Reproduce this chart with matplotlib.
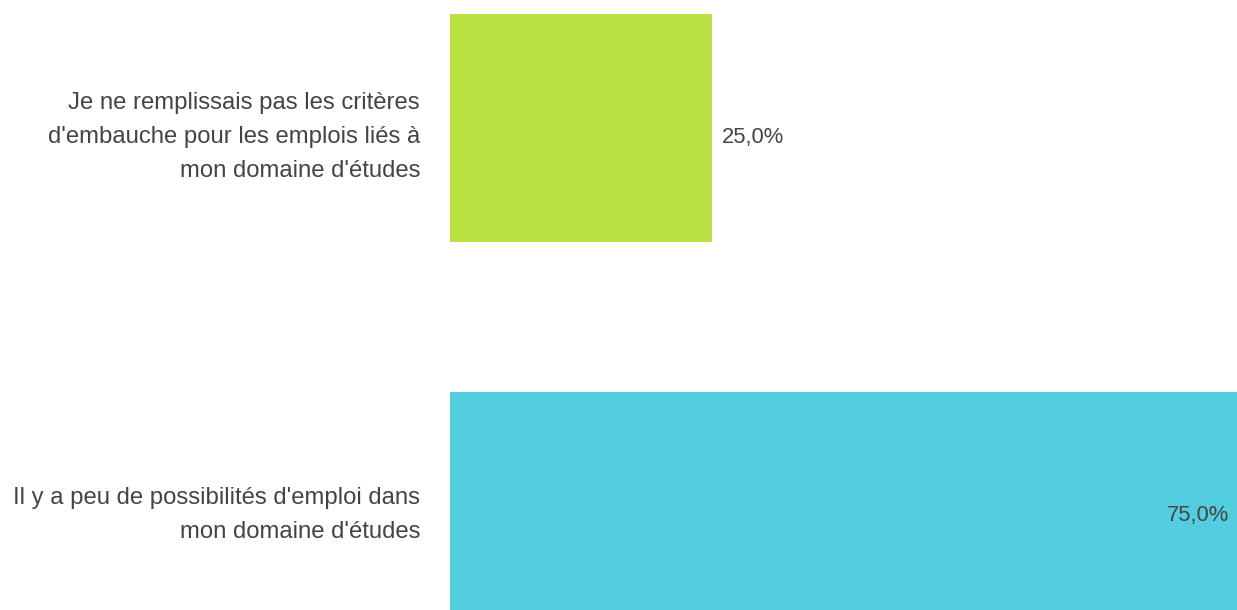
import matplotlib

matplotlib.use("Agg")
import matplotlib.pyplot as plt

categories = [
    "Je ne remplissais pas les critères\nd'embauche pour les emplois liés à\nmon domaine d'études",
    "Il y a peu de possibilités d'emploi dans\nmon domaine d'études",
]
values = [25.0, 75.0]
colors = ["#B8E040", "#52CEE0"]

plt.rcParams["font.family"] = ["Liberation Sans", "DejaVu Sans"]
text_color = "#444444"

fig = plt.figure(figsize=(12.37, 6.10), dpi=100)
ax = fig.add_axes([450 / 1237, 0, 787 / 1237, 1])

ypos = list(range(len(values)))
ax.barh(ypos, values, height=0.603, color=colors)
ax.set_xlim(0, 75)
ax.set_ylim(1.275, -0.3386)

for y, v, lab in zip(ypos, values, categories):
    ax.annotate(lab, xy=(0, y), xytext=(-21.6, -6.5), textcoords="offset points",
                ha="right", va="center", fontsize=17.2, color=text_color,
                linespacing=1.68, annotation_clip=False)
    txt = f"{v:.1f}%".replace(".", ",")
    if v > 60:
        ax.annotate(txt, xy=(v, y), xytext=(-6, -6.5), textcoords="offset points",
                    ha="right", va="center", fontsize=15.8, color=text_color)
    else:
        ax.annotate(txt, xy=(v, y), xytext=(7, -6.5), textcoords="offset points",
                    ha="left", va="center", fontsize=15.8, color=text_color)

ax.axis("off")
fig.savefig("out.png", dpi=100)
